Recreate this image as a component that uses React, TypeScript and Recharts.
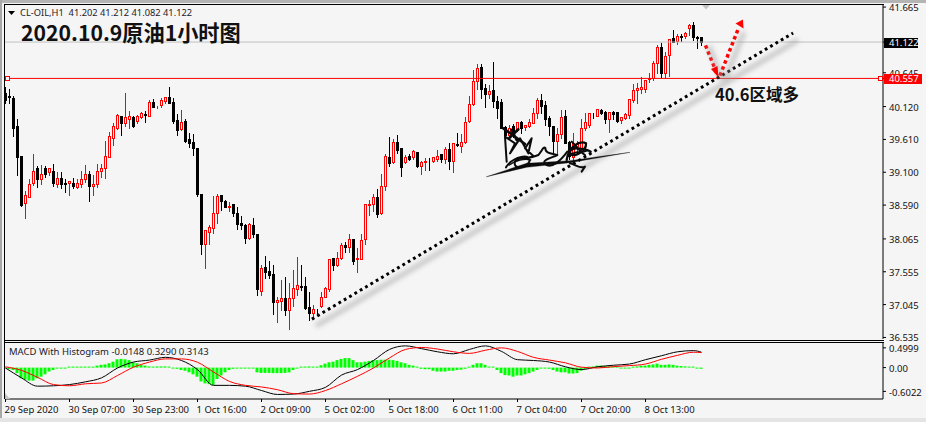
import { Bar, ComposedChart, Line, ReferenceLine, XAxis, YAxis } from "recharts";

// hourly CL-OIL bars
const opens = [
  40.33, 40.29, 40.25, 39.82, 39.35, 38.62, 38.72, 38.94, 39.17, 39.0,
  39.17, 39.1, 39.12, 38.92, 39.01, 38.94, 38.94, 38.94, 38.87, 38.92,
  39.0, 39.08, 38.89, 38.92, 39.12, 39.17, 39.34, 39.63, 39.79, 39.97,
  39.87, 39.93, 39.96, 39.9, 39.96, 40.0, 39.98, 40.19, 40.14, 40.14,
  40.21, 40.27, 40.19, 39.91, 39.77, 39.9, 39.62, 39.57, 39.48, 38.77,
  37.98, 38.17, 38.24, 38.47, 38.75, 38.66, 38.56, 38.6, 38.47, 38.31,
  38.28, 38.08, 38.28, 38.14, 37.26, 37.63, 37.57, 37.52, 37.09, 37.1,
  37.15, 36.96, 37.14, 37.29, 37.33, 37.33, 37.01, 36.91, 36.95, 37.03,
  37.17, 37.28, 37.77, 37.66, 37.77, 37.97, 37.94, 38.06, 37.75, 37.75,
  38.06, 38.59, 38.6, 38.71, 38.47, 38.89, 39.33, 39.26, 39.57, 39.47,
  39.26, 39.35, 39.33, 39.42, 39.2, 39.26, 39.28, 39.28, 39.3, 39.38,
  39.3, 39.46, 39.27, 39.54, 39.51, 39.57, 39.9, 40.16, 40.52, 40.73,
  40.41, 40.31, 40.38, 40.21, 40.19, 39.8, 39.68, 39.82, 39.75, 39.88,
  39.8, 39.82, 39.87, 40.02, 40.22, 40.14, 39.94, 39.82, 39.59, 39.69,
  39.97, 39.57, 39.33, 39.5, 39.46, 39.78, 39.83, 39.98, 39.98, 40.07,
  40.03, 39.93, 40.03, 40.03, 39.91, 39.94, 39.99, 40.22, 40.38, 40.39,
  40.4, 40.55, 40.56, 40.79, 41.04, 40.64, 40.92, 41.18, 41.14, 41.21,
  41.21, 41.34, 41.39, 41.2, 41.202,
];
const closes = [
  40.22, 40.27, 39.79, 39.34, 38.59, 38.75, 38.92, 39.12, 39.0, 39.08,
  39.08, 39.17, 38.94, 39.01, 38.92, 38.91, 38.96, 38.89, 38.94, 39.0,
  39.08, 38.89, 38.92, 39.12, 39.17, 39.36, 39.66, 39.82, 39.99, 39.87,
  39.96, 39.97, 39.82, 39.97, 40.02, 39.99, 40.19, 40.12, 40.15, 40.22,
  40.27, 40.17, 39.9, 39.75, 39.88, 39.58, 39.55, 39.48, 38.77, 37.99,
  38.2, 38.25, 38.47, 38.73, 38.66, 38.56, 38.58, 38.47, 38.3, 38.28,
  38.08, 38.3, 38.14, 37.28, 37.61, 37.55, 37.5, 37.08, 37.12, 37.15,
  36.96, 37.15, 37.3, 37.35, 37.32, 37.0, 36.91, 36.98, 36.94, 37.17,
  37.3, 37.76, 37.66, 37.77, 37.97, 37.94, 38.06, 37.72, 37.77, 38.05,
  38.6, 38.6, 38.71, 38.45, 38.89, 39.35, 39.24, 39.57, 39.44, 39.18,
  39.33, 39.3, 39.43, 39.19, 39.26, 39.28, 39.27, 39.33, 39.36, 39.3,
  39.46, 39.27, 39.56, 39.53, 39.57, 39.88, 40.16, 40.52, 40.72, 40.39,
  40.31, 40.36, 40.21, 40.1, 39.79, 39.68, 39.79, 39.74, 39.88, 39.79,
  39.83, 39.88, 40.02, 40.22, 40.13, 39.93, 39.82, 39.59, 39.69, 39.96,
  39.56, 39.36, 39.56, 39.56, 39.79, 39.88, 40.02, 39.97, 40.08, 40.02,
  39.93, 40.03, 40.01, 39.9, 39.96, 40.0, 40.24, 40.38, 40.41, 40.43,
  40.54, 40.56, 40.79, 41.05, 40.64, 40.9, 41.17, 41.13, 41.21, 41.2,
  41.27, 41.39, 41.2, 41.18, 41.122,
];
const highs = [
  40.44, 40.41, 40.3, 39.94, 39.35, 38.82, 39.01, 39.4, 39.21, 39.23,
  39.21, 39.18, 39.25, 39.12, 39.12, 39.01, 38.97, 39.03, 39.01, 39.13,
  39.23, 39.13, 39.08, 39.25, 39.25, 39.6, 39.74, 39.88, 40.02, 39.99,
  40.35, 40.07, 39.99, 40.0, 40.05, 40.07, 40.24, 40.25, 40.15, 40.27,
  40.29, 40.44, 40.27, 40.02, 40.08, 39.94, 39.73, 39.71, 39.49, 38.77,
  38.22, 38.3, 38.75, 38.78, 38.77, 38.69, 38.65, 38.6, 38.58, 38.44,
  38.31, 38.33, 38.41, 38.16, 37.67, 37.82, 37.74, 37.67, 37.18, 37.44,
  37.49, 37.4, 37.6, 37.8, 37.67, 37.49, 37.26, 37.06, 36.99, 37.25,
  37.33, 37.76, 37.79, 37.87, 38.02, 38.03, 38.16, 38.08, 37.94, 38.16,
  38.62, 38.69, 38.78, 38.85, 39.09, 39.4, 39.66, 39.63, 39.69, 39.49,
  39.38, 39.4, 39.46, 39.43, 39.29, 39.33, 39.33, 39.36, 39.46, 39.39,
  39.51, 39.57, 39.56, 39.72, 39.71, 39.97, 40.3, 40.7, 40.8, 40.8,
  40.49, 40.47, 40.83, 40.3, 40.25, 39.83, 39.85, 39.87, 39.9, 39.91,
  39.85, 39.94, 40.11, 40.27, 40.33, 40.22, 39.99, 39.84, 39.81, 40.08,
  40.08, 39.6, 39.72, 39.6, 39.94, 40.04, 40.04, 40.04, 40.09, 40.1,
  40.07, 40.04, 40.07, 40.04, 39.98, 40.03, 40.26, 40.49, 40.5, 40.6,
  40.54, 40.66, 40.85, 41.09, 41.13, 40.98, 41.18, 41.32, 41.27, 41.27,
  41.29, 41.42, 41.45, 41.23, 41.212,
];
const lows = [
  40.18, 40.17, 39.66, 39.06, 38.57, 38.39, 38.71, 38.9, 38.87, 38.92,
  39.03, 39.06, 38.89, 38.87, 38.86, 38.79, 38.75, 38.86, 38.86, 38.87,
  38.95, 38.66, 38.75, 38.87, 39.03, 39.01, 39.33, 39.52, 39.77, 39.68,
  39.82, 39.79, 39.8, 39.87, 39.95, 39.88, 39.97, 40.11, 40.1, 40.12,
  40.17, 40.17, 39.87, 39.68, 39.75, 39.57, 39.49, 39.37, 38.73, 37.83,
  37.61, 37.98, 38.16, 38.31, 38.52, 38.56, 38.5, 38.42, 38.22, 38.22,
  38.0, 38.07, 38.09, 37.2, 37.2, 37.46, 37.46, 36.9, 36.78, 36.96,
  36.88, 36.66, 37.03, 37.2, 37.27, 36.98, 36.81, 36.83, 36.91, 37.01,
  37.16, 37.25, 37.58, 37.65, 37.76, 37.86, 37.86, 37.67, 37.55, 37.75,
  37.98, 38.44, 38.5, 38.4, 38.45, 38.82, 39.19, 39.24, 39.4, 39.04,
  39.25, 39.29, 39.3, 39.18, 39.08, 39.14, 39.14, 39.26, 39.27, 39.26,
  39.24, 39.15, 39.11, 39.5, 39.42, 39.55, 39.88, 40.14, 40.39, 40.25,
  40.11, 40.25, 40.11, 39.94, 39.78, 39.65, 39.66, 39.65, 39.74, 39.71,
  39.75, 39.8, 39.86, 39.94, 40.02, 39.83, 39.68, 39.4, 39.4, 39.63,
  39.55, 39.3, 39.29, 39.4, 39.44, 39.76, 39.8, 39.94, 39.97, 40.0,
  39.87, 39.73, 39.93, 39.88, 39.87, 39.93, 39.94, 40.19, 40.17, 40.33,
  40.35, 40.5, 40.53, 40.64, 40.58, 40.56, 40.6, 41.12, 41.09, 41.14,
  41.18, 41.23, 41.15, 41.03, 41.082,
];

// MACD histogram, one value per bar
const histogram = [
  -0.02, -0.04, -0.06, -0.14, -0.27, -0.31, -0.33, -0.33, -0.27, -0.23,
  -0.17, -0.1, -0.06, -0.02, -0.01, -0.01, 0.01, 0.02, 0.025, 0.025,
  0.025, 0.025, 0.025, 0.05, 0.07, 0.08, 0.11, 0.15, 0.21, 0.22,
  0.21, 0.19, 0.135, 0.11, 0.07, 0.05, 0.03, 0.025, 0.03, 0.03,
  0.03, 0, -0.02, -0.03, -0.06, -0.08, -0.12, -0.17, -0.23, -0.35,
  -0.4, -0.42, -0.44, -0.29, -0.2, -0.12, -0.06, -0.03, -0.02, -0.02,
  -0.02, -0.02, -0.02, -0.12, -0.135, -0.135, -0.135, -0.14, -0.14, -0.14,
  -0.135, -0.12, -0.06, -0.02, 0.02, 0.025, 0.03, 0.02, 0.02, 0.06,
  0.1, 0.135, 0.15, 0.19, 0.22, 0.24, 0.24, 0.19, 0.135, 0.135,
  0.15, 0.17, 0.19, 0.19, 0.2, 0.2, 0.2, 0.19, 0.17, 0.135,
  0.11, 0.07, 0.05, 0.02, -0.03, -0.04, -0.04, -0.08, -0.1, -0.1,
  -0.1, -0.08, -0.08, -0.06, -0.05, -0.03, 0.01, 0.07, 0.11, 0.11,
  0.07, 0.025, 0, -0.06, -0.14, -0.19, -0.2, -0.23, -0.2, -0.2,
  -0.17, -0.14, -0.1, -0.06, -0.02, -0.02, -0.03, -0.06, -0.1, -0.12,
  -0.12, -0.15, -0.15, -0.14, -0.08, -0.03, 0, 0.03, 0.05, 0.05,
  0.04, 0.03, 0.02, 0, -0.01, -0.01, -0.02, 0, 0.03, 0.05,
  0.05, 0.07, 0.08, 0.1, 0.07, 0.07, 0.08, 0.07, 0.05, 0.04,
  0.03, 0.025, 0.01, -0.01, -0.03,
];

// MACD and signal lines, read every fourth bar (plus the last one)
const lineBars = [
  0, 4, 8, 12, 16, 20, 24, 28, 32, 36, 40, 44, 48, 52, 56, 60, 64, 68, 72, 76, 80, 84,
  88, 92, 96, 100, 104, 108, 112, 116, 120, 124, 128, 132, 136, 140, 144, 148, 152,
  156, 160, 164, 168, 172, 174,
];
const macdLine = [
  -0.01, -0.26, -0.47, -0.46, -0.43, -0.36, -0.26, -0.01, 0.14, 0.19, 0.26, 0.18, -0.05,
  -0.45, -0.45, -0.47, -0.58, -0.68, -0.67, -0.6, -0.5, -0.19, -0.05, 0.18, 0.46, 0.55,
  0.48, 0.4, 0.35, 0.46, 0.55, 0.41, 0.2, 0.18, 0.14, 0.02, -0.05, 0.02, 0.06, 0.09,
  0.2, 0.3, 0.4, 0.43, 0.39,
];
const signalLine = [
  0.02, -0.07, -0.245, -0.43, -0.46, -0.41, -0.39, -0.2, 0.01, 0.14, 0.22, 0.22, 0.135,
  -0.11, -0.35, -0.45, -0.49, -0.56, -0.66, -0.67, -0.58, -0.41, -0.22, -0.01, 0.245,
  0.46, 0.51, 0.47, 0.4, 0.36, 0.44, 0.5, 0.41, 0.26, 0.19, 0.12, 0.01, -0.01, 0.025,
  0.05, 0.09, 0.21, 0.31, 0.39, 0.38,
];

const dateBars = [0, 16, 32, 48, 64, 80, 96, 112, 128, 144, 160];
const dateLabels = [
  "29 Sep 2020", "30 Sep 07:00", "30 Sep 23:00", "1 Oct 16:00", "2 Oct 09:00", "5 Oct 02:00",
  "5 Oct 18:00", "6 Oct 11:00", "7 Oct 04:00", "7 Oct 20:00", "8 Oct 13:00",
];

const priceTicks = [
  41.665, 41.122, 40.645, 40.557, 40.12, 39.61, 39.1, 38.59, 38.065, 37.555, 37.045, 36.535,
];
const macdTicks = [0.4999, 0, -0.6022];
const lastPrice = 41.122;
const levelPrice = 40.557;

const BG = "#f5f5f5";
const FONT = "'Noto Sans', sans-serif";
const CJK = "'Noto Sans CJK SC', sans-serif";
const X_DOMAIN = [-0.125, 219.375];

const candles = opens.map((open, i) => ({
  i,
  open,
  close: closes[i],
  high: highs[i],
  low: lows[i],
}));
const macdRows = histogram.map((hist, i) => {
  const k = lineBars.indexOf(i);
  return {
    i,
    hist,
    macd: k >= 0 ? macdLine[k] : null,
    signal: k >= 0 ? signalLine[k] : null,
  };
});

// one candle out of the low-high bar recharts hands us
function Candle(props: any) {
  const { x, y, width, height, payload } = props;
  const { open, close, high, low } = payload;
  const cx = Math.floor(x + width / 2) + 0.5;
  const perUnit = height / (high - low);
  const yOf = (v: number) => Math.round(y + (high - v) * perUnit) + 0.5;
  const up = close >= open;
  const color = up ? "#ff0000" : "#000000";
  const top = yOf(Math.max(open, close));
  const bottom = yOf(Math.min(open, close));
  return (
    <g shapeRendering="crispEdges">
      <line x1={cx} x2={cx} y1={yOf(high)} y2={yOf(low)} stroke={color} />
      <rect
        x={cx - 1}
        y={top}
        width={2}
        height={Math.max(bottom - top, 0)}
        fill={up ? BG : "#000"}
        stroke={color}
      />
    </g>
  );
}

function PriceTick({ x, y, payload }: any) {
  const v = payload.value;
  const text = v.toFixed(3);
  const cy = y + 0.5;
  if (v === lastPrice || v === levelPrice) {
    const w = v === levelPrice ? 38 : 34;
    return (
      <g>
        <rect
          x={884}
          y={Math.round(cy) - 5}
          width={w}
          height={10}
          fill={v === levelPrice ? "#ff0000" : "#000"}
        />
        <text x={x} y={cy + 3.5} fontSize={9.5} fontFamily={FONT} fill="#fff">
          {text}
        </text>
      </g>
    );
  }
  return (
    <text x={x} y={cy + 3.5} fontSize={9.5} fontFamily={FONT} fill="#111">
      {text}
    </text>
  );
}

function MacdTick({ x, y, payload }: any) {
  const v = payload.value;
  return (
    <text x={x} y={y + 4.5} fontSize={9.5} fontFamily={FONT} fill="#111">
      {v === 0 ? "0.00" : v.toFixed(4)}
    </text>
  );
}

function DateTick({ x, y, payload }: any) {
  return (
    <text x={x - 1} y={y + 9} fontSize={9.5} fontFamily={FONT} fill="#111">
      {dateLabels[dateBars.indexOf(payload.value)]}
    </text>
  );
}

// hand-drawn signature and other things pasted on top of the screenshot
function Markup() {
  return (
    <svg
      width={926}
      height={422}
      style={{ position: "absolute", left: 0, top: 0, pointerEvents: "none" }}
    >
      <defs>
        <filter id="soft" x="-10%" y="-10%" width="120%" height="120%">
          <feGaussianBlur stdDeviation="2.5" />
        </filter>
      </defs>
      {/* shadows */}
      <g filter="url(#soft)" stroke="#9a9a9a" strokeWidth={4} fill="none" opacity={0.6}>
        <path d="M316 326 L798 40" />
        <path d="M709 46 L722 80" />
        <path d="M725 80 L744 32" />
      </g>

      {/* frame */}
      <g fill="#000" shapeRendering="crispEdges">
        <rect x={4} y={4} width={880} height={1} />
        <rect x={4} y={4} width={1} height={395} />
        <rect x={4} y={340} width={880} height={1} />
        <rect x={4} y={342} width={880} height={1} />
      </g>
      <path d="M5 393 L5 399 L10 399 Z" fill="#c4c4c4" />
      <path d="M702 5 L710 5 L706 9.5 Z" fill="#c4c4c4" />

      {/* level handles */}
      <rect x={5.5} y={76.5} width={4} height={4} fill={BG} stroke="#ff0000" />
      <rect x={878.5} y={76.5} width={4} height={4} fill={BG} stroke="#ff0000" />

      {/* arrow heads */}
      <path d="M711 69 L717.5 66 L718.5 77.5 Z" fill="#ff0000" />
      <path d="M735.5 23.5 L743 19.5 L743.5 28.5 Z" fill="#ff0000" />

      {/* signature */}
      <g
        transform="translate(470 110) scale(0.3333)"
        fill="none"
        stroke="#0a0a0a"
        strokeWidth={6}
        strokeLinecap="round"
        strokeLinejoin="round"
      >
        <path d="M50 200 L170 160 L300 152 L480 127 L300 158 L170 172 Z" fill="#0a0a0a" strokeWidth={1} />
        <path d="M105 80 L110 155 M105 80 L135 100 L120 130 L150 85 L175 130 L185 85 L165 115 L190 138" />
        <path d="M100 55 L165 102 M118 84 L145 58 M125 60 L140 90" strokeWidth={8} />
        <path d="M108 172 C130 138 185 128 178 155 C165 178 128 178 135 155 C142 138 172 150 205 135 C215 125 220 108 226 114 C226 130 240 130 262 135 C240 145 215 150 225 162 C245 178 272 152 292 125" />
        <path d="M118 165 C135 150 165 145 182 150" strokeWidth={4} />
        <path d="M290 150 C295 110 330 90 348 100 C352 125 300 150 300 125 C305 105 355 120 362 125" strokeWidth={7} />
        <path d="M305 95 C320 110 330 125 345 135 M300 135 C320 120 335 130 350 122" />
        <path d="M300 160 C320 165 330 178 345 170 L335 185" />
      </g>

      {/* texts */}
      <path d="M8 11 L15 11 L11.5 15 Z" fill="#000" />
      <text x={20} y={15.5} fontSize={9.3} fontFamily={FONT} fill="#1a1a2a" xmlSpace="preserve">
        CL-OIL,H1  41.202 41.212 41.082 41.122
      </text>
      <text x={21} y={40.5} fontSize={21.2} fontWeight={700} fontFamily={CJK} fill="#111">
        2020.10.9原油1小时图
      </text>
      <text x={715} y={101} fontSize={16.5} fontWeight={700} fontFamily={CJK} fill="#111">
        40.6区域多
      </text>
      <text x={9} y={355} fontSize={9.5} fontFamily={FONT} fill="#1a1a2a">
        MACD With Histogram -0.0148 0.3290 0.3143
      </text>
    </svg>
  );
}

export default function App() {
  return (
    <div
      style={{
        position: "fixed",
        left: 0,
        top: 0,
        width: 926,
        height: 422,
        background: BG,
        overflow: "hidden",
      }}
    >
      {/* window chrome */}
      <div style={{ position: "absolute", left: 0, top: 0, width: 926, height: 3, background: "#b4b4b4" }} />
      <div style={{ position: "absolute", left: 0, top: 0, width: 2, height: 422, background: "#a8a8a8" }} />
      <div style={{ position: "absolute", left: 0, top: 418, width: 926, height: 4, background: "#e4e4e4" }} />

      <div style={{ position: "absolute", left: 0, top: 0 }}>
        <ComposedChart
          width={926}
          height={346}
          data={candles}
          margin={{ top: 5, right: 0, bottom: 7, left: 5 }}
        >
          <XAxis dataKey="i" type="number" domain={X_DOMAIN} hide allowDataOverflow />
          <YAxis
            orientation="right"
            width={43}
            domain={[36.511, 41.697]}
            allowDataOverflow
            ticks={priceTicks}
            interval={0}
            tick={<PriceTick />}
            tickSize={3}
            tickMargin={3}
            stroke="#000"
          />
          <ReferenceLine y={lastPrice} stroke="#c0c0c0" />
          <ReferenceLine y={levelPrice} stroke="#ff0000" />
          <Bar
            dataKey={(d: any) => [d.low, d.high]}
            barSize={3}
            shape={(p: any) => <Candle {...p} />}
            isAnimationActive={false}
          />
          <ReferenceLine
            segment={[{ x: 76.6, y: 36.82 }, { x: 196.9, y: 41.262 }]}
            stroke="#000"
            strokeWidth={3}
            strokeDasharray="2.8 3.4"
          />
          <ReferenceLine
            segment={[{ x: 175, y: 41.07 }, { x: 177.8, y: 40.64 }]}
            stroke="#ff0000"
            strokeWidth={3.5}
            strokeDasharray="3.5 3"
          />
          <ReferenceLine
            segment={[{ x: 178.6, y: 40.6 }, { x: 183.2, y: 41.33 }]}
            stroke="#ff0000"
            strokeWidth={3.5}
            strokeDasharray="3.5 3"
          />
        </ComposedChart>
      </div>

      <div style={{ position: "absolute", left: 0, top: 341 }}>
        <ComposedChart
          width={926}
          height={81}
          data={macdRows}
          margin={{ top: 1, right: 0, bottom: 0, left: 5 }}
        >
          <XAxis
            dataKey="i"
            type="number"
            domain={X_DOMAIN}
            allowDataOverflow
            ticks={dateBars}
            interval={0}
            tick={<DateTick />}
            tickSize={3}
            height={23}
            stroke="#000"
          />
          <YAxis
            orientation="right"
            width={43}
            domain={[-0.795, 0.648]}
            allowDataOverflow
            ticks={macdTicks}
            interval={0}
            tick={<MacdTick />}
            tickSize={3}
            tickMargin={3}
            stroke="#000"
          />
          <Bar dataKey="hist" barSize={3} fill="#00ff00" minPointSize={1} isAnimationActive={false} />
          <Line
            dataKey="macd"
            type="monotone"
            stroke="#000"
            dot={false}
            connectNulls
            strokeWidth={1}
            isAnimationActive={false}
          />
          <Line
            dataKey="signal"
            type="monotone"
            stroke="#ff0000"
            dot={false}
            connectNulls
            strokeWidth={1}
            isAnimationActive={false}
          />
        </ComposedChart>
      </div>

      <Markup />
    </div>
  );
}
